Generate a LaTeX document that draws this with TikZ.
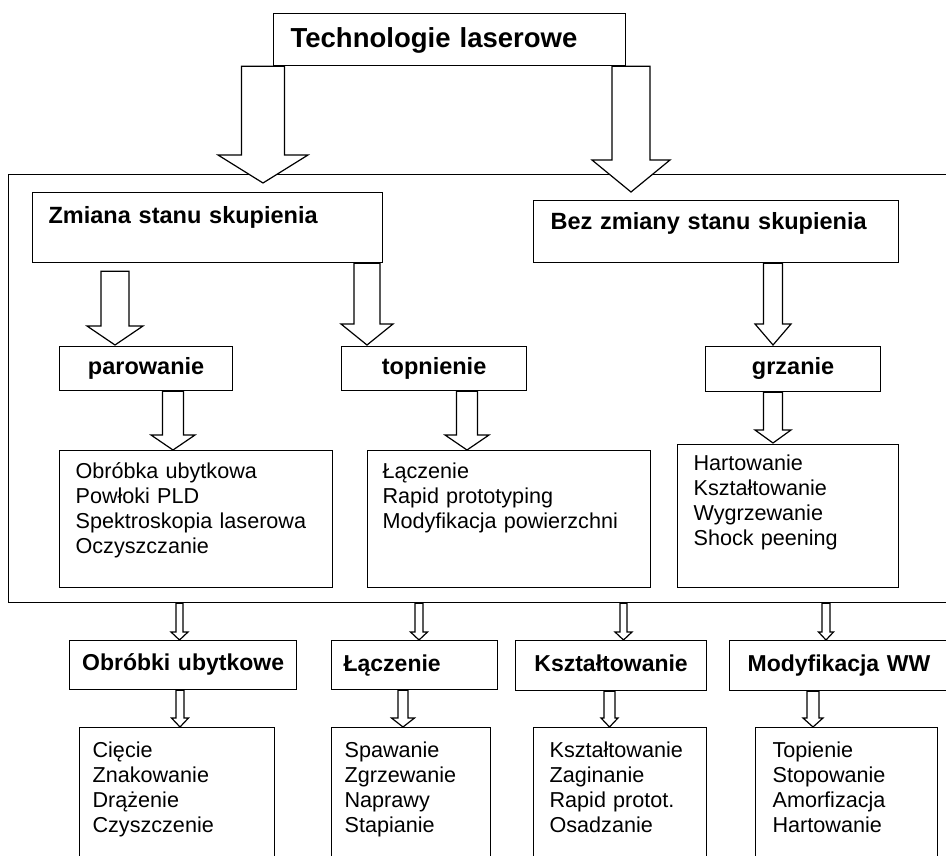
\documentclass[tikz,border=0pt]{standalone}
\usepackage{fontspec}
\setmainfont{Liberation Sans}
\usetikzlibrary{calc}
\tikzset{
  box/.style={draw, line width=1.2pt, fill=white, anchor=north west, inner ysep=0pt, align=left},
  ctr/.style={align=center},
  titlefont/.style={font=\fontsize{27.5}{32}\selectfont\bfseries},
  headfont/.style={font=\fontsize{23.5}{28}\selectfont\bfseries},
  subfont/.style={font=\fontsize{23}{28}\selectfont\bfseries},
  listfont/.style={font=\fontsize{21.6}{25}\selectfont},
  blockarrow/.style={draw, line width=1.2pt, fill=white, line join=miter}
}
% box: name, x, y, w, h, padx, baseline offset, style, text
\newcommand\bx[9]{%
  \pgfmathsetmacro\bxtw{#4-2*#6}\pgfmathsetmacro\bxtd{#5-#7}%
  \node[box,#8, text width=\bxtw pt, inner xsep=#6pt, text height=#7pt, text depth=\bxtd pt] (#1) at (#2,#3) {#9};}
% block arrow: src, dst, tip x, top gap, tip gap, shaft half width, head half width, head length
\newcommand\blk[8]{%
  \draw[blockarrow] let \p1=(#1.south), \p2=(#2.north) in
   (#3pt-#6pt, \y1-#4pt) -- (#3pt-#6pt, \y2+#5pt+#8pt) -- (#3pt-#7pt, \y2+#5pt+#8pt)
   -- (#3pt, \y2+#5pt) -- (#3pt+#7pt, \y2+#5pt+#8pt) -- (#3pt+#6pt, \y2+#5pt+#8pt)
   -- (#3pt+#6pt, \y1-#4pt) -- cycle;}
\begin{document}
\begin{tikzpicture}[x=1pt,y=-1pt]
\clip (0,0) rectangle (946,856);
\fill[white] (0,0) rectangle (946,856);
% outer container
\node[draw, line width=1.2pt, anchor=north west, minimum width=960pt, minimum height=428pt, inner sep=0pt] (outer) at (8,174) {};
% top
\bx{title}{273}{13}{352}{52}{17}{33.5}{titlefont}{Technologie laserowe}
\bx{zmiana}{32}{192}{350}{70}{16}{31}{headfont}{Zmiana stanu skupienia}
\bx{bez}{533}{200}{365}{62}{17}{29}{headfont}{Bez zmiany stanu skupienia}
\bx{parow}{59}{346}{173}{44}{0}{28}{headfont,ctr}{parowanie}
\bx{topn}{341}{346}{185}{44}{0}{28}{headfont,ctr}{topnienie}
\bx{grz}{705}{346}{175}{45}{0}{28}{headfont,ctr}{grzanie}
\bx{l1}{59}{450}{273}{137}{16}{28}{listfont}{Obróbka ubytkowa\\Powłoki PLD\\Spektroskopia laserowa\\Oczyszczanie}
\bx{l2}{367}{450}{283}{137}{15}{28}{listfont}{Łączenie\\Rapid prototyping\\Modyfikacja powierzchni}
\bx{l3}{677}{444}{221}{143}{16}{25.5}{listfont}{Hartowanie\\Kształtowanie\\Wygrzewanie\\Shock peening}
% bottom headers
\bx{obr}{69}{640}{227}{49}{0}{30}{subfont,ctr}{Obróbki ubytkowe}
\bx{lacz}{331}{640}{166}{49}{12}{31}{subfont}{Łączenie}
\bx{ksz}{515}{640}{191}{50}{0}{30.5}{subfont,ctr}{Kształtowanie}
\bx{mod}{729}{640}{240}{50}{18}{30.5}{subfont}{Modyfikacja WW}
% bottom lists
\bx{la}{79}{727}{195}{150}{13}{29.5}{listfont}{Cięcie\\Znakowanie\\Drążenie\\Czyszczenie}
\bx{lb}{331}{727}{159}{150}{13}{29.5}{listfont}{Spawanie\\Zgrzewanie\\Naprawy\\Stapianie}
\bx{lc}{533}{727}{173}{150}{16}{29.5}{listfont}{Kształtowanie\\Zaginanie\\Rapid protot.\\Osadzanie}
\bx{ld}{755}{727}{182}{150}{17}{29.5}{listfont}{Topienie\\Stopowanie\\Amorfizacja\\Hartowanie}
% arrows
\blk{title}{zmiana}{263}{0}{9}{21.5}{45}{28}
\blk{title}{bez}{631}{0}{8}{19}{39}{32}
\blk{zmiana}{parow}{115}{8}{1}{14}{28}{19}
\blk{zmiana}{topn}{367}{0}{1}{13}{26}{21}
\blk{bez}{grz}{773}{0}{1}{9.5}{18}{21}
\blk{parow}{l1}{173}{0}{0}{10.5}{22}{15}
\blk{topn}{l2}{467}{0}{0}{10.5}{22}{15}
\blk{grz}{l3}{773}{0}{1}{9.5}{18}{13}
\blk{outer}{obr}{179.5}{0}{0}{3.5}{8.5}{8}
\blk{outer}{lacz}{419}{0}{0}{4}{8.5}{8}
\blk{outer}{ksz}{623.5}{0}{0}{3.5}{8.5}{8}
\blk{outer}{mod}{826}{0}{0}{4}{7.5}{8}
\blk{obr}{la}{180}{0}{0}{4}{8.5}{9}
\blk{lacz}{lb}{403}{0}{0}{5}{11.5}{9}
\blk{ksz}{lc}{609.5}{0}{0}{5.5}{8.5}{9}
\blk{mod}{ld}{813}{0}{0}{6}{10}{9}
\end{tikzpicture}
\end{document}
